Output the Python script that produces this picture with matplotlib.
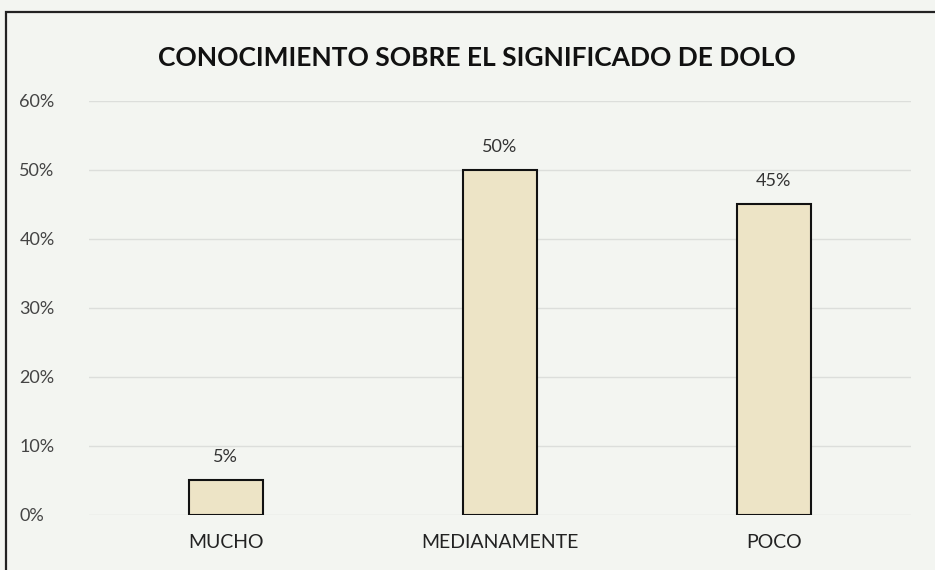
import matplotlib.pyplot as plt
from matplotlib.patches import Rectangle

categories = ["MUCHO", "MEDIANAMENTE", "POCO"]
values = [5, 50, 45]
yticks = [0, 10, 20, 30, 40, 50, 60]
title = "CONOCIMIENTO SOBRE EL SIGNIFICADO DE DOLO"

plt.rcParams['font.family'] = ['Lato', 'DejaVu Sans']

fig = plt.figure(figsize=(9.35, 5.70), dpi=100, facecolor='#f3f5f1')
ax = fig.add_axes([0.095, 0.097, 0.879, 0.726])
ax.set_facecolor('#f3f5f1')

# chart frame
fig.patches.append(Rectangle((0.006, -0.05), 1.1, 1.029, transform=fig.transFigure,
                             fill=False, edgecolor='#222222', linewidth=1.6))

x = range(len(categories))
bars = ax.bar(x, values, width=0.27, color='#ede4c6', edgecolor='#111111', linewidth=1.5, zorder=3)
for b, v in zip(bars, values):
    ax.text(b.get_x() + b.get_width() / 2, v + 2.2, f"{v}%", ha='center', va='bottom',
            fontsize=13, color='#333333')

ax.set_ylim(0, 60)
ax.set_xlim(-0.5, 2.5)
ax.set_yticks(yticks)
ax.set_yticklabels([f"{t}%" for t in yticks], fontsize=13, color='#444444')
ax.set_xticks(list(x))
ax.set_xticklabels(categories, fontsize=14, color='#222222')
ax.tick_params(length=0)
ax.tick_params(axis='y', pad=50)
ax.tick_params(axis='x', pad=14)
for lbl in ax.get_yticklabels():
    lbl.set_horizontalalignment('left')
ax.yaxis.grid(True, color='#dcdedb', linewidth=1, zorder=0)
for s in ax.spines.values():
    s.set_visible(False)

fig.text(0.510, 0.898, title, ha='center', va='center', fontsize=19, fontweight='bold', color='#111111')

fig.savefig('out.png', dpi=100, facecolor=fig.get_facecolor())
